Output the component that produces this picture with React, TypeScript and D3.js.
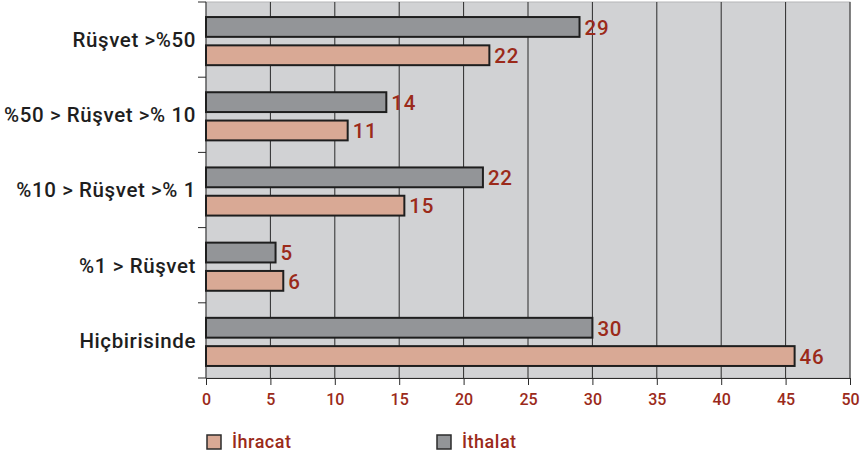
import React, { useEffect, useRef } from "react";
import * as d3 from "d3";

const categories = ["Rüşvet >%50", "%50 > Rüşvet >% 10", "%10 > Rüşvet >% 1", "%1 > Rüşvet", "Hiçbirisinde"];
const ithalat = [29, 14, 21.5, 5.4, 30];
const ihracat = [22, 11, 15.4, 6, 45.7];
const xTicks = [0, 5, 10, 15, 20, 25, 30, 35, 40, 45, 50];
const seriesNames = ["İhracat", "İthalat"];

const COLORS = { ithalat: "#939598", ihracat: "#d9a995", bg: "#d1d2d4", red: "#9b2a1a" };
const FONT = "Roboto, 'DejaVu Sans', sans-serif";

const App: React.FC = () => {
  const svgRef = useRef<SVGSVGElement>(null);

  useEffect(() => {
    if (!svgRef.current) return;
    const width = 860;
    const height = 459;
    const margin = { top: 2, right: 10, bottom: 81, left: 206 };
    const innerW = width - margin.left - margin.right;
    const innerH = height - margin.top - margin.bottom;

    const svg = d3.select(svgRef.current).attr("width", width).attr("height", height);
    svg.selectAll("*").remove();

    const g = svg.append("g").attr("transform", `translate(${margin.left},${margin.top})`);

    const x = d3.scaleLinear().domain([0, 50]).range([0, innerW]);
    const y = d3.scaleBand().domain(categories).range([0, innerH]);
    const inner = d3.scaleBand().domain(["ithalat", "ihracat"]).range([y.bandwidth() * 0.2, y.bandwidth() * 0.84]).paddingInner(0.3);

    g.append("rect").attr("width", innerW).attr("height", innerH).attr("fill", COLORS.bg).attr("stroke", "#b5b6b8");

    // grid
    g.selectAll("line.grid")
      .data(xTicks.slice(1))
      .enter()
      .append("line")
      .attr("x1", (d) => x(d))
      .attr("x2", (d) => x(d))
      .attr("y1", 0)
      .attr("y2", innerH)
      .attr("stroke", "#2b2b2b")
      .attr("stroke-width", 1);

    // bottom axis
    const xAxis = g.append("g").attr("transform", `translate(0,${innerH})`).call(d3.axisBottom(x).tickValues(xTicks).tickSize(7).tickSizeOuter(0));
    xAxis.select(".domain").attr("stroke", "#2b2b2b");
    xAxis.selectAll(".tick line").attr("stroke", "#2b2b2b");
    xAxis.selectAll("text").attr("fill", COLORS.red).attr("font-size", 16).attr("font-family", FONT).attr("font-weight", 500).attr("dy", "1.05em");

    // left ticks at band boundaries
    const bounds = categories.map((c) => y(c) || 0).concat([innerH]);
    g.selectAll("line.ytick")
      .data(bounds)
      .enter()
      .append("line")
      .attr("x1", -8)
      .attr("x2", 0)
      .attr("y1", (d) => d)
      .attr("y2", (d) => d)
      .attr("stroke", "#2b2b2b");
    g.append("line").attr("x1", 0).attr("x2", 0).attr("y1", 0).attr("y2", innerH).attr("stroke", "#2b2b2b");

    g.selectAll("text.cat")
      .data(categories)
      .enter()
      .append("text")
      .attr("x", -10)
      .attr("y", (d) => (y(d) || 0) + y.bandwidth() / 2)
      .attr("dy", "0.36em")
      .attr("text-anchor", "end")
      .attr("font-family", FONT)
      .attr("font-size", 20.5)
      .attr("font-weight", 500)
      .attr("letter-spacing", 0.6)
      .attr("fill", "#1e1e1e")
      .text((d) => d);

    const series = [
      { key: "ithalat", values: ithalat, color: COLORS.ithalat },
      { key: "ihracat", values: ihracat, color: COLORS.ihracat },
    ];

    series.forEach((s) => {
      const grp = g.append("g");
      grp.selectAll("rect")
        .data(s.values)
        .enter()
        .append("rect")
        .attr("x", 0)
        .attr("y", (_, i) => (y(categories[i]) || 0) + (inner(s.key) || 0))
        .attr("width", (d) => x(d))
        .attr("height", inner.bandwidth())
        .attr("fill", s.color)
        .attr("stroke", "#1e1e1e")
        .attr("stroke-width", 2);
      grp.selectAll("text")
        .data(s.values)
        .enter()
        .append("text")
        .attr("x", (d) => x(d) + 5)
        .attr("y", (_, i) => (y(categories[i]) || 0) + (inner(s.key) || 0) + inner.bandwidth() / 2)
        .attr("dy", "0.38em")
        .attr("font-family", FONT)
        .attr("font-size", 20.5)
        .attr("font-weight", 500)
        .attr("letter-spacing", 0.8)
        .attr("fill", COLORS.red)
        .text((d) => Math.round(d));
    });

    // legend
    const legendX = d3.scalePoint().domain(seriesNames).range([0, 230]);
    const legend = g.append("g").attr("transform", `translate(1,${innerH + 57})`);
    const items = legend.selectAll("g").data(seriesNames).enter().append("g").attr("transform", (d) => `translate(${legendX(d)},0)`);
    items.append("rect")
      .attr("width", 14)
      .attr("height", 14)
      .attr("fill", (_, i) => (i === 0 ? COLORS.ihracat : COLORS.ithalat))
      .attr("stroke", "#2b2b2b")
      .attr("stroke-width", 1.5);
    items.append("text")
      .attr("x", 25)
      .attr("y", 7)
      .attr("dy", "0.36em")
      .attr("font-family", FONT)
      .attr("font-size", 18)
      .attr("font-weight", 500)
      .attr("letter-spacing", 0.5)
      .attr("fill", COLORS.red)
      .text((d) => d);
  }, []);

  return <svg ref={svgRef} style={{ position: "absolute", left: 0, top: 0 }}></svg>;
};

export default App;
